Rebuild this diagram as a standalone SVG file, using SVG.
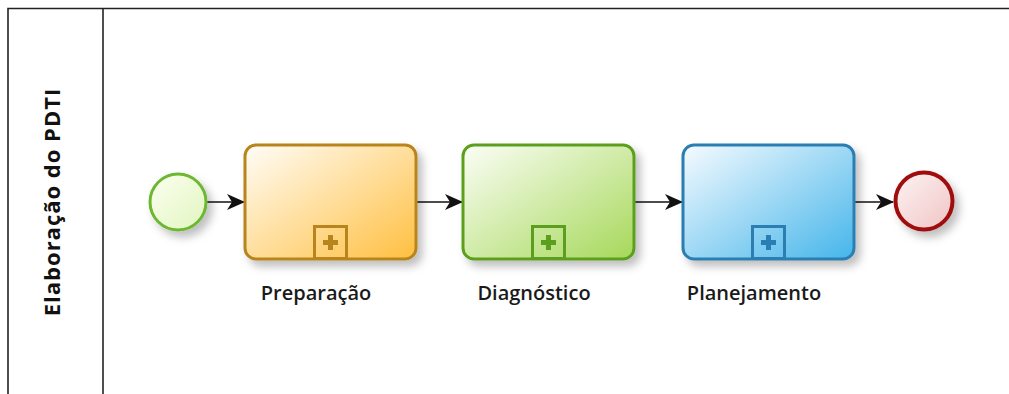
<svg xmlns="http://www.w3.org/2000/svg" width="1009" height="394" viewBox="0 0 1009 394">
<style>
.lbl{font-family:"Open Sans","Noto Sans","Liberation Sans",sans-serif;font-weight:600;font-size:20px;fill:#1a1a1a;text-anchor:middle}
.lane{font-family:"Open Sans","Noto Sans","Liberation Sans",sans-serif;font-weight:700;font-size:22px;letter-spacing:1px;fill:#111;text-anchor:middle}
.conn{stroke:#111;stroke-width:1.5;fill:none;marker-end:url(#arr)}
</style>
<defs>
<marker id="arr" viewBox="0 0 18 18" refX="17" refY="9" markerWidth="18" markerHeight="18" markerUnits="userSpaceOnUse" orient="auto">
<path d="M0,1 L18,9 L0,17 L5,9 Z" fill="#111"/>
</marker>
<filter id="sh" x="-20%" y="-20%" width="150%" height="150%">
<feDropShadow dx="5" dy="6" stdDeviation="4" flood-color="#000" flood-opacity="0.25"/>
</filter>
<linearGradient id="g1" x1="0" y1="0" x2="1" y2="1"><stop offset="0" stop-color="#fffdf8"/><stop offset="1" stop-color="#ffbf40"/></linearGradient>
<linearGradient id="g2" x1="0" y1="0" x2="1" y2="1"><stop offset="0" stop-color="#fbfef6"/><stop offset="1" stop-color="#a6d85a"/></linearGradient>
<linearGradient id="g3" x1="0" y1="0" x2="1" y2="1"><stop offset="0" stop-color="#f6fbff"/><stop offset="1" stop-color="#45b5ea"/></linearGradient>
<linearGradient id="gs" x1="0" y1="0" x2="1" y2="1"><stop offset="0" stop-color="#fbfff0"/><stop offset="1" stop-color="#e2f5c0"/></linearGradient>
<linearGradient id="ge" x1="0" y1="0" x2="1" y2="1"><stop offset="0" stop-color="#fdf3f3"/><stop offset="1" stop-color="#f0c4c4"/></linearGradient>
</defs>
<rect width="1009" height="394" fill="#fff"/>
<g id="pool">
<path d="M8,400 L8,8.5 L1012,8.5" fill="none" stroke="#222" stroke-width="1.6"/>
<line x1="103" y1="8" x2="103" y2="400" stroke="#222" stroke-width="1.6"/>
<text class="lane" transform="translate(60,202) rotate(-90)">Elaboração do PDTI</text>
</g>
<g id="connectors">
<line class="conn" x1="207" y1="202" x2="244" y2="202"/>
<line class="conn" x1="416" y1="202" x2="462" y2="202"/>
<line class="conn" x1="635" y1="202" x2="682" y2="202"/>
<line class="conn" x1="855" y1="202" x2="893" y2="202"/>
</g>
<g id="start">
<circle cx="178" cy="202" r="28" fill="url(#gs)" stroke="#6cb830" stroke-width="3" filter="url(#sh)"/>
</g>
<g id="task-preparacao">
<rect x="245" y="145" width="171" height="114" rx="11" fill="url(#g1)" stroke="#b7851c" stroke-width="3" filter="url(#sh)"/>
<rect x="314.5" y="226.5" width="32" height="32" fill="none" stroke="#b7851c" stroke-width="3"/>
<path d="M323,242.5 H338 M330.5,235 V250" stroke="#b7851c" stroke-width="5"/>
<text class="lbl" x="316" y="300">Preparação</text>
</g>
<g id="task-diagnostico">
<rect x="463" y="145" width="171" height="114" rx="11" fill="url(#g2)" stroke="#5c9f1e" stroke-width="3" filter="url(#sh)"/>
<rect x="532.5" y="226.5" width="32" height="32" fill="none" stroke="#5c9f1e" stroke-width="3"/>
<path d="M541,242.5 H556 M548.5,235 V250" stroke="#5c9f1e" stroke-width="5"/>
<text class="lbl" x="534" y="300">Diagnóstico</text>
</g>
<g id="task-planejamento">
<rect x="683" y="145" width="171" height="114" rx="11" fill="url(#g3)" stroke="#2a7eb2" stroke-width="3" filter="url(#sh)"/>
<rect x="752.5" y="226.5" width="32" height="32" fill="none" stroke="#2a7eb2" stroke-width="3"/>
<path d="M761,242.5 H776 M768.5,235 V250" stroke="#2a7eb2" stroke-width="5"/>
<text class="lbl" x="754" y="300">Planejamento</text>
</g>
<g id="end">
<circle cx="924" cy="201" r="28.5" fill="url(#ge)" stroke="#a01010" stroke-width="4" filter="url(#sh)"/>
</g>
</svg>
